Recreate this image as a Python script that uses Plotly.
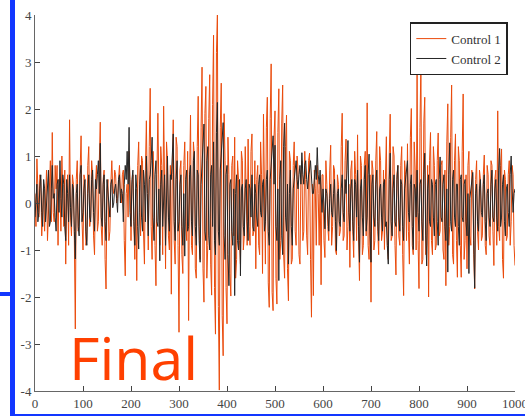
import plotly.graph_objects as go

control_1 = [
    0.2, -0.5, 0.94, 0.3, -0.3, 0.6, 0.5, -0.7, -0.2, 0.4, -0.6, 0.2, 0.7, -0.8, -0.1, 0.5, 0.9, -0.4, 1.5, -0.2,
    -0.4, 0.8, 0.3, 0.8, -0.9, 0.5, 0.3, -0.6, 1.0, 0.2, -0.5, 0.7, -1.3, 0.1, 0.6, -0.9, 1.77, -0.3, -0.7, 0.6,
    0.4, -0.8, -2.68, 0.5, 0.9, -0.6, -0.2, 0.7, 1.43, -0.4, -1.0, 0.6, 0.5, -0.9, -0.8, 0.8, 1.2, -0.5, -0.3, 0.9,
    0.6, -0.7, -1.1, 0.4, 0.8, -0.6, -0.4, 0.9, 1.72, -0.5, -0.9, 0.5, 0.7, -1.2, -1.83, 0.3, 0.5, -0.8, -0.6, 0.4,
    0.9, 0.3, 0.2, 0.7, 0.6, 0.0, 0.1, 0.5, 0.8, 0.2, 0.0, 0.6, 0.7, -0.8, -1.55, 0.2, 0.4, -0.3, 1.1, 0.5,
    -0.8, 0.4, 0.6, -0.5, -1.2, 0.3, -1.65, 0.8, 1.3, -0.2, -0.7, 1.0, 0.9, -0.6, -1.3, 0.7, 1.75, 0.2, -1.0, 1.2,
    2.44, -0.5, -1.2, 1.1, 0.5, -0.9, -1.76, 0.6, 1.91, 0.3, -0.9, 1.2, 0.8, -1.1, 2.06, 0.4, -1.4, 1.3, 0.9, -0.7,
    -1.0, 0.8, -1.94, 0.6, 1.77, -0.8, -1.3, 1.4, 1.2, -0.9, -2.75, 0.7, 0.9, -1.1, -1.5, 0.8, 1.3, -0.4, -0.8, 1.1,
    -2.5, 0.5, 1.87, -0.9, -1.1, 1.3, 1.0, -1.4, -1.6, 1.2, 2.27, -0.5, -1.2, 1.6, 2.89, -1.4, -2.11, 1.9, 2.48, -1.6,
    -0.9, 1.8, 2.73, -1.3, -1.96, 2.1, 3.57, -1.8, -2.79, 3.2, 4.0, -2.2, -3.98, 1.6, 2.55, -2.4, -3.25, 1.9, 0.9, -1.8,
    -2.57, 1.4, 0.6, -1.5, -1.98, 0.8, 1.0, -0.7, 1.40, -1.6, -1.2, 0.9, 0.5, -0.8, -1.3, 1.1, 0.9, -1.0, -0.7, 1.2,
    0.4, -0.9, 1.36, -0.5, -0.9, 1.1, 1.47, -0.7, -0.6, 0.9, -1.4, 0.5, 0.8, -0.9, -1.1, 1.3, 0.6, -1.5, 1.89, -0.6,
    -1.3, 1.6, 2.25, -1.7, -2.22, 1.8, 2.96, -1.9, -2.29, 1.4, 1.96, -1.6, -2.15, 1.5, 2.43, -1.2, -0.8, 1.7, 2.51, -1.1,
    -1.6, 1.2, 1.87, -1.4, -2.08, 1.1, 0.9, -1.3, -1.2, 0.8, 1.3, -0.6, -0.9, 1.0, 0.7, -1.1, -1.3, 0.6, 0.9, -0.8,
    -0.6, 1.1, 0.5, -0.7, -1.1, 0.9, 1.06, -1.2, -2.43, 0.4, -1.97, 0.7, 0.3, -0.9, 0.8, 0.2, -0.9, 0.5, -1.74, 0.6,
    0.6, -0.8, -1.16, 0.9, 0.4, -0.5, -0.8, 0.7, 1.23, -0.9, -0.5, 0.8, 0.7, -1.0, -1.1, 0.6, 0.4, -0.7, -0.6, 1.2,
    1.91, -0.8, -0.7, 0.9, 1.36, -1.0, -0.5, 0.4, -1.37, 0.7, 0.9, -0.6, -1.16, 1.1, 0.6, -0.8, 1.45, -0.7, -1.65, 1.0,
    0.8, -1.1, -0.9, 0.8, 1.1, -0.7, 2.13, -0.9, -1.2, 0.6, -2.11, 0.9, 0.7, -1.0, -0.8, 0.9, 1.52, -0.6, -1.1, 1.2,
    0.9, -0.8, -0.6, 0.7, -0.99, 0.5, 1.41, -0.9, -1.2, 1.0, 1.89, -0.8, -0.7, 1.2, 1.0, -0.9, -1.53, 0.6, 0.8, -0.7,
    -0.9, 0.8, 1.2, -1.1, -1.97, 0.9, 0.6, -0.8, 1.26, -0.6, -1.3, 1.4, 2.01, -0.9, -1.1, 1.3, 0.7, -1.0, 2.74, -0.8,
    -1.82, 1.6, 2.99, -1.3, -1.2, 1.7, 2.25, -1.1, -0.9, 0.8, -2.0, 0.9, 1.5, -0.8, -1.1, 1.2, 0.8, -1.0, -0.9, 0.9,
    1.49, -0.7, -0.6, 0.8, 0.9, -1.0, -1.2, 0.7, -1.76, 1.3, 2.11, -0.9, -0.5, 1.4, 2.51, -1.1, -1.3, 0.9, 1.47, -0.8,
    -1.58, 1.2, 0.9, -0.9, -1.58, 1.1, 2.32, -1.2, -0.8, 0.6, -1.4, 0.8, 1.1, -0.7, -0.9, 0.7, 0.6, -1.1, -1.83, 0.5,
    0.9, -0.6, -1.0, 0.7, 0.5, -0.8, -0.7, 0.6, 1.02, -0.9, -1.1, 0.8, 0.6, -0.7, -0.9, 0.9, 0.8, -0.6, -1.33, 0.5,
    0.7, -0.9, 1.96, -0.5, -0.8, 0.8, 1.15, -1.2, -1.6, 0.7, 0.5, -0.8, -0.7, 0.6, 0.9, -0.9, -0.4, 0.8, 0.6, -0.9,
    -1.33,
]

control_2 = [
    -0.3, 0.2, 0.4, -0.4, -0.2, 0.3, 0.6, -0.2, -0.5, 0.5, 0.3, -0.4, -0.1, 0.4, 0.7, -0.5, -0.4, 0.3, 0.8, 0.1,
    0.2, -0.3, -0.6, 0.4, 0.5, -0.2, 0.9, 0.1, -0.3, 0.6, 0.4, -0.5, -0.8, 0.5, 0.2, -0.4, 0.6, -0.1, -0.5, 0.4,
    0.3, -0.6, -1.19, 0.2, 0.4, -0.5, -0.7, 0.6, 0.8, -0.4, -0.2, 0.3, 0.5, -0.6, -0.9, 0.2, 0.6, -0.3, -0.4, 0.5,
    0.7, -0.2, -0.6, 0.5, 0.3, 0.6, 0.9, 0.2, 1.27, -0.3, -0.5, 0.4, 0.6, -0.4, -0.8, 0.5, 0.2, -0.2, -0.3, 0.4,
    0.5, -0.1, 0.0, 0.3, 0.4, 0.1, -0.2, 0.5, 0.6, 0.0, 0.3, 0.2, -0.4, 0.4, 0.8, 0.5, 1.1, 0.4, 1.61, -0.2,
    -0.5, 0.5, 0.7, -0.4, -0.9, 0.6, 0.3, -0.5, -0.98, 0.4, 0.8, -0.3, -0.6, 0.7, 0.4, -0.4, 1.0, 0.2, -0.7, 0.5,
    0.6, 0.9, 1.4, -0.3, -0.8, 0.6, 0.9, -0.4, -0.5, 0.3, -1.23, 0.4, 0.7, -0.5, 0.2, 0.6, -0.9, 0.5, 1.0, -0.3,
    -0.6, 0.6, 0.5, 1.0, 1.47, -0.4, -0.8, 0.5, 0.9, -0.6, -0.4, 0.4, 0.6, -0.5, -0.9, 0.2, -1.13, 0.5, 0.7, -0.6,
    -0.5, 0.6, 0.8, -0.4, -0.7, 0.9, 1.1, -0.5, -0.9, 0.7, 0.6, -0.8, -1.26, 0.4, 0.9, 1.2, 1.68, -0.6, -0.8, 0.9,
    1.2, -0.7, -1.0, 0.6, 0.8, -0.5, 1.3, -0.8, -1.1, 1.5, 2.14, -0.6, -0.9, 0.7, 1.0, 1.3, 1.71, -0.7, -1.2, 0.6,
    0.8, -1.1, -1.76, 0.4, 0.5, -0.6, -0.9, 0.3, -1.97, 0.2, 0.6, -0.8, -1.0, 0.5, -1.55, 0.3, 0.4, -0.5, -0.7, 0.3,
    0.5, -0.4, -0.8, 0.4, 0.3, -0.3, 0.6, -0.5, -0.6, 0.4, 0.2, -0.3, -0.5, 0.4, 0.6, -0.2, -0.3, 0.4, 0.5, -0.6,
    -0.4, 0.5, 0.7, -0.6, -0.9, 0.5, 0.8, 1.1, 1.43, 0.4, 1.23, -0.5, -0.8, 0.3, -1.65, 0.5, 0.9, -0.7, -1.1, 1.2,
    1.70, -0.3, -0.6, 0.4, -1.3, 0.2, 0.7, -0.5, -0.9, 0.3, 0.5, 0.7, 0.9, 0.5, 0.3, 0.6, 0.8, 0.4, 1.07, 0.6,
    0.4, 0.8, 0.9, 0.5, 0.3, 0.6, 0.7, 0.9, 0.5, 0.2, 0.2, 0.6, 0.8, 0.5, 1.18, 0.6, 0.4, 0.7, 0.1, -0.2,
    0.3, 0.0, -0.55, 0.3, 0.2, -0.3, -0.6, 0.1, 0.4, -0.2, -0.3, 0.2, 0.5, -0.4, -1.01, 0.2, 0.3, -0.4, -0.5, 0.3,
    0.6, -0.2, -0.4, 0.5, 0.2, 0.7, 1.33, -0.2, -0.6, 0.3, 0.5, -0.4, -0.8, 0.5, 0.4, -0.3, 0.7, -0.5, -1.26, 0.3,
    0.5, -0.3, -0.7, 0.5, 0.8, -0.6, -0.3, 0.6, 1.04, -0.6, -1.26, 0.4, 0.6, -0.3, -0.5, 0.4, 0.7, -0.4, -0.8, 0.3,
    0.4, -0.3, -0.6, 0.4, 0.5, -0.5, -0.4, -0.9, -1.3, 0.5, 1.06, -0.4, -0.7, 0.3, 0.6, -0.4, -0.5, 0.5, 0.8, -0.3,
    -0.6, 0.5, 0.4, -0.5, -0.8, 0.3, 0.5, 0.6, 0.9, -0.2, -0.4, 0.4, 0.6, -0.5, -0.99, 0.4, 0.3, -0.3, 0.7, -0.2,
    -0.6, 0.4, 0.5, -0.4, -0.8, 0.6, 1.06, -0.7, -1.34, 0.3, 0.6, -0.4, -0.5, 0.5, 0.4, -0.3, -0.7, 0.4, 0.5, -0.4,
    -0.9, 0.5, 0.98, -0.3, -0.4, 0.4, 0.6, -0.5, -0.8, 0.3, -1.47, 0.6, 1.28, -0.4, -0.6, 0.5, 0.7, -0.3, -0.5, 0.4,
    0.4, -0.5, -0.9, 0.5, 0.6, -0.3, -0.4, 0.4, 0.5, -0.4, -0.7, 0.2, -1.5, 0.1, 0.3, 0.5, 0.65, -0.8, -1.81, 0.2,
    0.4, -0.4, -0.6, 0.3, 0.5, -0.2, -0.3, 0.4, 0.6, -0.4, -0.8, 0.2, 0.3, -0.3, -0.5, 0.4, 0.7, -0.3, -0.4, 0.3,
    0.5, -0.3, -0.6, 0.7, 1.16, -0.5, -0.3, 0.4, 0.6, -0.4, -0.7, 0.3, 0.4, -0.2, -0.5, 0.6, 1.0, 0.3, -0.2, 0.2,
    0.3,
]

# sample spacing along x (2 units per sample, starting at 0)
x_step = 2
x_1 = [i * x_step for i in range(len(control_1))]
x_2 = [i * x_step for i in range(len(control_2))]

x_ticks = [0, 100, 200, 300, 400, 500, 600, 700, 800, 900, 1000]
x_tick_labels = ["0", "100", "200", "300", "400", "500", "600", "700", "800", "900", "1000"]
y_ticks = [-4, -3, -2, -1, 0, 1, 2, 3, 4]
y_tick_labels = ["-4", "-3", "-2", "-1", "0", "1", "2", "3", "4"]
series_names = ["Control 1", "Control 2"]
annotation_text = "Final"

ORANGE = "#EA4B0C"
DARK = "#262626"
BLUE = "#1237FF"

fig = go.Figure()
fig.add_trace(go.Scatter(x=x_1, y=control_1, mode="lines", name=series_names[0],
                         line=dict(color=ORANGE, width=1)))
fig.add_trace(go.Scatter(x=x_2, y=control_2, mode="lines", name=series_names[1],
                         line=dict(color=DARK, width=1)))

tick_font = dict(family="Liberation Serif", size=13, color="#444444")

fig.update_layout(
    width=525, height=416,
    margin=dict(l=35, r=10, t=15, b=25, autoexpand=False),
    paper_bgcolor="white", plot_bgcolor="white",
    showlegend=True,
    legend=dict(x=0.985, y=0.981, xanchor="right", yanchor="top",
                bgcolor="white", bordercolor="#222222", borderwidth=1.5,
                font=dict(family="Liberation Serif", size=13, color="#333333"),
                tracegroupgap=0, entrywidth=72, entrywidthmode="pixels"),
    xaxis=dict(range=[0, 1000], tickvals=x_ticks, ticktext=x_tick_labels,
               ticks="inside", ticklen=5, tickcolor="#444444", tickwidth=1,
               showline=True, linecolor="#666666", linewidth=1,
               showgrid=False, zeroline=False, tickfont=tick_font,
               automargin=False, ticklabeloverflow="allow"),
    yaxis=dict(range=[-4, 4], tickvals=y_ticks, ticktext=y_tick_labels,
               ticks="inside", ticklen=5, tickcolor="#444444", tickwidth=1,
               showline=True, linecolor="#666666", linewidth=1,
               showgrid=False, zeroline=False, tickfont=tick_font,
               automargin=False, ticklabeloverflow="allow"),
    font=dict(family="Liberation Serif"),
)

def px_to_paper_x(px):
    return (px - 35) / 480.0

def py_to_paper_y(py):
    return (391 - py) / 376.0

fig.add_shape(type="line", xref="paper", yref="paper",
              x0=px_to_paper_x(12.5), x1=px_to_paper_x(12.5),
              y0=py_to_paper_y(0), y1=py_to_paper_y(416),
              line=dict(color=BLUE, width=5))
fig.add_shape(type="line", xref="paper", yref="paper",
              x0=px_to_paper_x(0), x1=px_to_paper_x(12.5),
              y0=py_to_paper_y(294), y1=py_to_paper_y(294),
              line=dict(color=BLUE, width=4))
fig.add_shape(type="line", xref="paper", yref="paper",
              x0=px_to_paper_x(12.5), x1=px_to_paper_x(525),
              y0=py_to_paper_y(415), y1=py_to_paper_y(415),
              line=dict(color=BLUE, width=2))

fig.add_annotation(text=annotation_text, xref="paper", yref="paper",
                   x=px_to_paper_x(67), y=py_to_paper_y(399),
                   xanchor="left", yanchor="bottom", showarrow=False,
                   font=dict(family="Open Sans", size=59, color="#FF4000"))

fig.write_html("out.html",
               config={"displayModeBar": False},
               post_script="document.body.style.margin='0';document.body.style.padding='0';document.documentElement.style.overflow='hidden';")
